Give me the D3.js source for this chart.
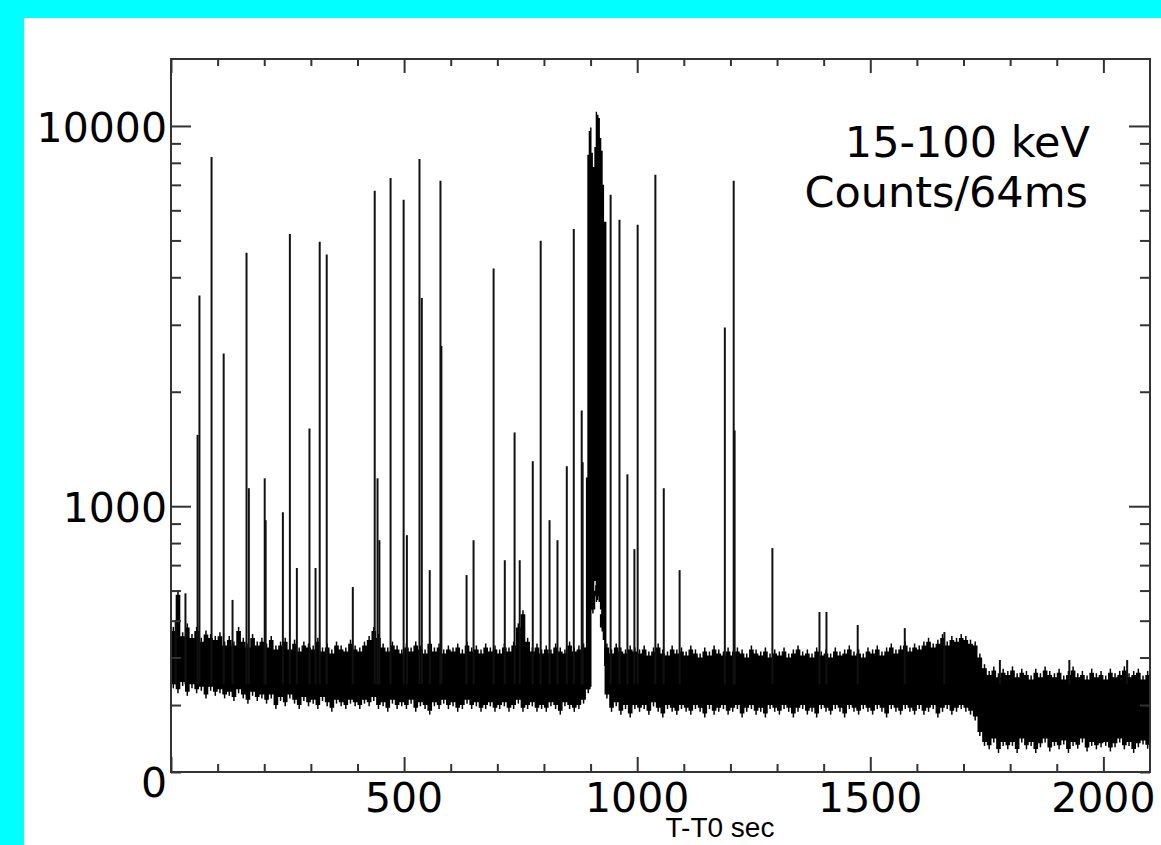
<!DOCTYPE html>
<html>
<head>
<meta charset="utf-8">
<script src="https://cdn.jsdelivr.net/npm/d3@7"></script>
<style>
  html, body { margin: 0; padding: 0; background: #00ffff; }
  svg { display: block; }
</style>
</head>
<body>
<svg id="chart" width="1161" height="845"></svg>
<script>
// Swift/BAT style light curve, 15-100 keV, counts per 64 ms bin

// background band, one sample every 10 s (upper and lower edge of the noise)
const bandStep = 10;
const bandHi = [
    470, 585, 455, 480, 450, 470, 440, 460, 450, 445,
    455, 430, 445, 430, 470, 440, 425, 450, 430, 440,
    425, 445, 420, 430, 440, 420, 435, 415, 430, 425,
    420, 440, 415, 425, 410, 430, 420, 415, 435, 420,
    415, 430, 445, 470, 450, 425, 415, 430, 420, 410,
    425, 415, 430, 420, 410, 435, 415, 425, 410, 420,
    415, 425, 410, 430, 415, 420, 410, 425, 415, 420,
    410, 425, 415, 430, 480, 520, 440, 415, 425, 410,
    420, 410, 425, 415, 410, 430, 415, 420, 425, 430,
    600, 620, 520, 425, 410, 425, 415, 410, 420, 415,
    410, 420, 405, 415, 425, 410, 405, 420, 410, 415,
    405, 420, 410, 400, 415, 405, 420, 410, 405, 415,
    405, 415, 410, 400, 420, 410, 405, 415, 400, 410,
    405, 415, 400, 410, 420, 405, 410, 400, 415, 405,
    410, 400, 415, 405, 410, 420, 405, 410, 400, 415,
    410, 420, 405, 415, 425, 410, 420, 430, 415, 425,
    420, 430, 440, 425, 435, 450, 430, 445, 440, 450,
    445, 435, 430, 400, 375, 360, 370, 355, 365, 360,
    370, 355, 365, 360, 350, 365, 355, 370, 360, 355,
    365, 350, 360, 370, 355, 360, 350, 365, 355, 360,
    350, 365, 355, 360, 370, 355, 360, 365, 350, 360, 355
];
const bandLo = [
    340, 330, 345, 325, 340, 330, 335, 320, 335, 325,
    330, 320, 325, 315, 330, 320, 310, 325, 315, 320,
    310, 320, 300, 315, 305, 320, 310, 300, 315, 305,
    310, 300, 315, 305, 295, 310, 305, 300, 310, 305,
    300, 310, 305, 315, 300, 305, 295, 310, 300, 305,
    300, 310, 295, 305, 300, 290, 305, 300, 310, 300,
    305, 295, 300, 310, 300, 305, 295, 300, 305, 295,
    300, 305, 295, 300, 310, 295, 300, 305, 295, 300,
    295, 305, 300, 290, 305, 300, 295, 300, 310, 330,
    535, 580, 480, 320, 295, 305, 290, 300, 285, 300,
    295, 300, 290, 305, 295, 285, 300, 295, 290, 300,
    295, 290, 300, 295, 285, 300, 290, 295, 300, 290,
    295, 300, 285, 295, 300, 290, 295, 285, 300, 295,
    290, 300, 295, 285, 295, 300, 290, 295, 285, 300,
    295, 290, 300, 295, 285, 300, 295, 290, 300, 295,
    290, 300, 295, 285, 300, 295, 290, 300, 295, 290,
    300, 290, 295, 300, 285, 295, 300, 290, 295, 300,
    295, 290, 280, 255, 240, 235, 245, 230, 240, 235,
    240, 230, 245, 235, 240, 230, 238, 245, 232, 240,
    235, 242, 230, 240, 236, 245, 232, 240, 235, 238,
    240, 232, 238, 245, 235, 240, 230, 238, 242, 236, 240
];

// the burst itself (T-T0 ~ 890-935 s)
const burstT  = [890, 893, 896, 899, 902, 905, 908, 911, 914, 917, 920, 923, 926, 929, 932, 934];
const burstHi = [1190, 8400, 9700, 9900, 8500, 7800, 8800, 10900, 10700, 10500, 9300, 8600, 7000, 5600, 5600, 640];
const burstLo = [330, 330, 330, 335, 535, 600, 636, 560, 600, 560, 535, 508, 445, 380, 335, 320];

// single-bin spikes: time (s) and peak counts
const spikeT = [10, 31, 57, 61, 87, 113, 132, 162, 167, 201, 203, 240, 255, 270, 297, 310, 319, 334,
    390, 437, 443, 447, 471, 499, 506, 533, 538, 555, 578, 580, 634, 649, 692, 716, 737, 748, 776,
    793, 812, 829, 849, 864, 881, 883, 943, 962, 979, 994, 1001, 1039, 1057, 1091, 1188, 1207, 1209,
    1290, 1391, 1406, 1473, 1574, 1659, 1778, 1927, 2051];
const spikeV = [502, 590, 1540, 3580, 8290, 2520, 567, 4640, 1115, 1184, 919, 964, 5200, 688, 1600, 688, 4960, 4590,
    613, 6750, 1184, 814, 7300, 6400, 839, 8190, 3530, 679, 7180, 2640, 659, 814, 4220, 721, 1563, 721, 1313,
    4990, 919, 814, 1274, 5360, 1786, 1305, 6590, 5670, 1213, 771, 5500, 7440, 1115, 679, 2950, 7180, 1582,
    776, 527, 527, 487, 478, 467, 394, 394, 394];

// axis ticks
const xMajor = [0, 500, 1000, 1500, 2000];
const xLabels = ['500', '1000', '1500', '2000'];
const yMajor = [1000, 10000];
const yLabels = ['1000', '10000'];

const svg = d3.select('#chart');
const W = 1161, H = 845;
const plot = { left: 171, right: 1150, top: 59, bottom: 772 };
const ink = '#333';

// white panel on the cyan page
svg.append('rect')
    .attr('x', 24).attr('y', 18)
    .attr('width', W - 24).attr('height', H - 18)
    .attr('fill', '#fff');

const x = d3.scaleLinear().domain([0, 2100]).range([plot.left, plot.right]);
const y = d3.scaleLog().domain([200, 15000]).range([plot.bottom, plot.top]);

svg.append('clipPath').attr('id', 'plotclip')
    .append('rect')
    .attr('x', plot.left).attr('y', plot.top)
    .attr('width', plot.right - plot.left).attr('height', plot.bottom - plot.top);

const g = svg.append('g').attr('clip-path', 'url(#plotclip)');

// background noise band
const band = bandHi.map((hi, i) => ({ t: i * bandStep, hi: hi, lo: bandLo[i] }));
g.append('path')
    .datum(band)
    .attr('fill', '#000')
    .attr('d', d3.area()
        .curve(d3.curveStepAfter)
        .x(d => x(d.t))
        .y0(d => y(d.lo))
        .y1(d => y(d.hi)));

// comb-like fringe: a thin needle at each band sample
g.selectAll('line.fringe')
    .data(band)
    .enter()
    .append('line')
    .attr('class', 'fringe')
    .attr('x1', d => x(d.t + bandStep / 2))
    .attr('x2', d => x(d.t + bandStep / 2))
    .attr('y1', d => y(d.lo) + 4)
    .attr('y2', d => y(d.hi) - 4)
    .attr('stroke', '#000')
    .attr('stroke-width', 1.5);

// burst
const burst = burstT.map((t, i) => ({ t: t, hi: burstHi[i], lo: burstLo[i] }));
g.append('path')
    .datum(burst)
    .attr('fill', '#000')
    .attr('d', d3.area()
        .curve(d3.curveStepAfter)
        .x(d => x(d.t))
        .y0(d => y(d.lo))
        .y1(d => y(d.hi)));

// spikes, drawn up from inside the band
g.selectAll('line.spike')
    .data(spikeT.map((t, i) => ({ t: t, v: spikeV[i] })))
    .enter()
    .append('line')
    .attr('class', 'spike')
    .attr('x1', d => x(d.t))
    .attr('x2', d => x(d.t))
    .attr('y1', y(340))
    .attr('y2', d => y(d.v))
    .attr('stroke', '#111')
    .attr('stroke-width', 2);

// axes: ticks pointing inwards on all four sides
const xMinor = d3.range(100, 2100, 100).filter(v => v % 500 !== 0);
const yMinor = d3.range(200, 1000, 100).concat(d3.range(2000, 10000, 1000));

function styleAxis (sel) {
    sel.select('.domain').remove();
    sel.selectAll('.tick line').attr('stroke', ink).attr('stroke-width', 2);
    sel.selectAll('.tick text').remove();
}

const axes = [
    { gen: d3.axisBottom(x), at: `translate(0,${plot.bottom})`, maj: xMajor, min: xMinor, sMaj: -15, sMin: -8 },
    { gen: d3.axisTop(x), at: `translate(0,${plot.top})`, maj: xMajor, min: xMinor, sMaj: -14, sMin: -7 },
    { gen: d3.axisLeft(y), at: `translate(${plot.left},0)`, maj: yMajor, min: yMinor, sMaj: -20, sMin: -10 },
    { gen: d3.axisRight(y), at: `translate(${plot.right},0)`, maj: yMajor, min: yMinor, sMaj: -21, sMin: -10 }
];
axes.forEach(a => {
    svg.append('g').attr('transform', a.at)
        .call(a.gen.tickValues(a.maj).tickSize(a.sMaj).tickFormat(''))
        .call(styleAxis);
    svg.append('g').attr('transform', a.at)
        .call(a.gen.tickValues(a.min).tickSize(a.sMin).tickFormat(''))
        .call(styleAxis);
});

// frame
svg.append('rect')
    .attr('x', plot.left).attr('y', plot.top)
    .attr('width', plot.right - plot.left).attr('height', plot.bottom - plot.top)
    .attr('fill', 'none')
    .attr('stroke', ink)
    .attr('stroke-width', 2);

// tick labels
const font = 'DejaVu Sans, Verdana, sans-serif';
svg.append('g')
    .selectAll('text')
    .data(xLabels)
    .enter()
    .append('text')
    .attr('x', d => x(+d))
    .attr('y', 812)
    .attr('text-anchor', 'middle')
    .attr('font-family', font)
    .attr('font-size', 41)
    .attr('fill', '#000')
    .text(d => d);

svg.append('g')
    .selectAll('text')
    .data(yLabels)
    .enter()
    .append('text')
    .attr('x', plot.left - 4)
    .attr('y', d => y(+d) + 16)
    .attr('text-anchor', 'end')
    .attr('font-family', font)
    .attr('font-size', 41)
    .attr('fill', '#000')
    .text(d => d);

svg.append('text')
    .attr('x', plot.left - 4)
    .attr('y', plot.bottom + 25)
    .attr('text-anchor', 'end')
    .attr('font-family', font)
    .attr('font-size', 41)
    .attr('fill', '#000')
    .text('0');

// x axis title, sits right at the bottom edge
svg.append('text')
    .attr('x', 720)
    .attr('y', 837)
    .attr('text-anchor', 'middle')
    .attr('font-family', 'Liberation Sans, Arial, sans-serif')
    .attr('font-size', 28)
    .attr('fill', '#000')
    .text('T-T0 sec');

// band / binning note
const note = svg.append('text')
    .attr('text-anchor', 'end')
    .attr('font-family', font)
    .attr('font-size', 43)
    .attr('fill', '#000');
note.append('tspan').attr('x', 1090).attr('y', 157).text('15-100 keV');
note.append('tspan').attr('x', 1088).attr('y', 207).text('Counts/64ms');
</script>
</body>
</html>
